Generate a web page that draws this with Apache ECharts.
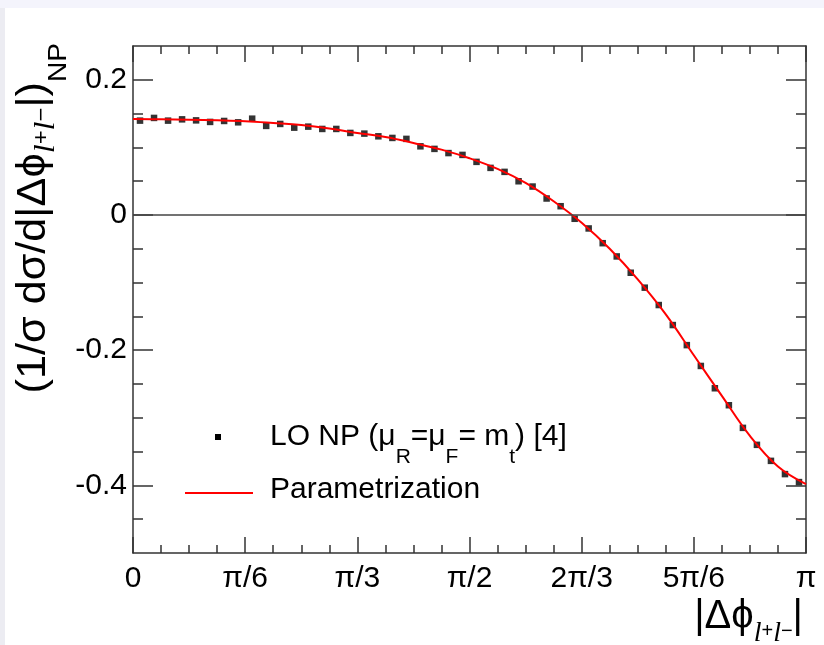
<!DOCTYPE html>
<html>
<head>
<meta charset="utf-8">
<script src="https://cdn.jsdelivr.net/npm/echarts@6/dist/echarts.min.js"></script>
<style>
html,body{margin:0;padding:0;background:#fff;}
#chart{width:824px;height:645px;}
</style>
</head>
<body>
<div id="chart"></div>
<script>
// x is expressed in units of pi/24 rad (minor tick step)
const xTickUnits = [0, 4, 8, 12, 16, 20, 24];
const xTickLabels = ['0', 'π/6', 'π/3', 'π/2', '2π/3', '5π/6', 'π'];
const yTickValues = [-0.4, -0.2, 0, 0.2];
const yTickLabels = ['-0.4', '-0.2', '0', '0.2'];
const yMinorTicks = [-0.45, -0.35, -0.3, -0.25, -0.15, -0.1, -0.05, 0.05, 0.1, 0.15];

// LO NP histogram, 48 bins over [0, pi]
const npValues = [
  0.1396, 0.1436, 0.1396, 0.1415, 0.1400, 0.1377, 0.1391, 0.1371, 0.1425, 0.1318,
  0.1347, 0.1292, 0.1307, 0.1273, 0.1273, 0.1214, 0.1204, 0.1164, 0.1140, 0.1126,
  0.1016, 0.0978, 0.0916, 0.0889, 0.0786, 0.0697, 0.0638, 0.0499, 0.0421, 0.0244,
  0.0130, -0.0056, -0.0199, -0.0417, -0.0613, -0.0854, -0.1075, -0.1332, -0.1628, -0.1925,
  -0.2233, -0.2563, -0.2814, -0.3149, -0.3400, -0.3637, -0.3833, -0.3951
];
// Parametrization curve, read at x = k*pi/24
const fitX = [0, 1, 2, 3, 4, 5, 6, 7, 8, 9, 10, 11, 12, 13, 14, 15, 16, 17, 18, 19, 20, 21, 22, 23, 24];
const fitY = [
  0.142, 0.1415, 0.141, 0.140, 0.1386, 0.136, 0.133, 0.128, 0.1214, 0.1155,
  0.1066, 0.0967, 0.084, 0.0682, 0.0475, 0.0204, -0.0115, -0.050, -0.0953, -0.147,
  -0.2075, -0.2676, -0.3267, -0.372, -0.398
];

const legendTexts = ['LO NP (μ', 'R', '=μ', 'F', '= m', 't', ') [4]'];
const legendFit = 'Parametrization';

const nBins = npValues.length;
const binW = 24 / nBins;
const npData = npValues.map((v, i) => [(i + 0.5) * binW, v]);
const fitData = fitX.map((x, i) => [x, fitY[i]]);

const FONT = 'Liberation Sans, Arial, Helvetica, sans-serif';
const AX = '#333';

function xAxisDef(pos, labels) {
  return {
    type: 'value', position: pos, min: 0, max: 24, interval: 4,
    axisLine: { show: true, onZero: false, lineStyle: { color: AX, width: 1.5 } },
    axisTick: { show: true, inside: true, length: 16, lineStyle: { color: AX, width: 1.5 } },
    minorTick: { show: true, splitNumber: 4, length: 8, lineStyle: { color: AX, width: 1.5 } },
    splitLine: { show: false },
    axisLabel: {
      show: labels, margin: 11, fontFamily: FONT, fontSize: 30, color: '#000',
      formatter: v => xTickLabels[xTickUnits.indexOf(Math.round(v))] || ''
    }
  };
}
function yAxisDef(pos, major, labels, showLine) {
  return {
    type: 'value', position: pos, min: -0.5, max: 0.25,
    axisLine: { show: showLine, onZero: false, lineStyle: { color: AX, width: 1.5 } },
    axisTick: { show: true, inside: true, length: major ? 20 : 10,
      customValues: major ? yTickValues : yMinorTicks, lineStyle: { color: AX, width: 1.5 } },
    splitLine: { show: false },
    axisLabel: {
      show: labels, margin: 6, fontFamily: FONT, fontSize: 30, color: '#000',
      customValues: yTickValues,
      formatter: v => { const i = yTickValues.findIndex(t => Math.abs(t - v) < 1e-9); return i >= 0 ? yTickLabels[i] : ''; }
    }
  };
}

const subShift = (px) => [px * 2, 0, 0, 0];

const chart = echarts.init(document.getElementById('chart'), null, { renderer: 'canvas' });
chart.setOption({
  backgroundColor: '#ffffff',
  animation: false,
  grid: { left: 133, right: 18, top: 46, bottom: 92, containLabel: false },
  xAxis: [xAxisDef('bottom', true), xAxisDef('top', false)],
  yAxis: [
    yAxisDef('left', true, true, true),
    yAxisDef('left', false, false, false),
    yAxisDef('right', true, false, true),
    yAxisDef('right', false, false, false)
  ],
  series: [
    {
      name: 'LO NP', type: 'scatter', data: npData, xAxisIndex: 0, yAxisIndex: 0,
      symbol: 'rect', symbolSize: 6.5, itemStyle: { color: '#000' }, z: 3,
      markLine: {
        silent: true, symbol: ['none', 'none'], label: { show: false },
        lineStyle: { color: '#444', width: 1.5, type: 'solid' },
        data: [{ yAxis: 0 }]
      }
    },
    {
      name: 'Parametrization', type: 'line', data: fitData, xAxisIndex: 0, yAxisIndex: 0,
      smooth: 0.4, showSymbol: false, lineStyle: { color: '#ff0000', width: 2 }, z: 4
    }
  ],
  graphic: [
    { type: 'rect', shape: { x: 0, y: 0, width: 824, height: 8 }, style: { fill: '#f4f4fc' }, silent: true, z: -10 },
    { type: 'rect', shape: { x: 0, y: 8, width: 5, height: 637 }, style: { fill: '#ececf2' }, silent: true, z: -10 },
    // legend
    { type: 'rect', shape: { x: 215, y: 434, width: 6, height: 6 }, style: { fill: '#000' } },
    { type: 'text', x: 270, y: 437, style: {
        text: '{m|' + legendTexts[0] + '}{s|' + legendTexts[1] + '}{m|' + legendTexts[2] + '}{s|' + legendTexts[3] + '}{m|' + legendTexts[4] + '}{s|' + legendTexts[5] + '}{m|' + legendTexts[6] + '}',
        verticalAlign: 'middle', align: 'left',
        rich: {
          m: { fontFamily: FONT, fontSize: 30, fill: '#000', color: '#000' },
          s: { fontFamily: FONT, fontSize: 21, fill: '#000', color: '#000', padding: subShift(20) }
        }
    } },
    { type: 'line', shape: { x1: 185, y1: 493, x2: 253, y2: 493 }, style: { stroke: '#ff0000', lineWidth: 2 } },
    { type: 'text', x: 270, y: 490, style: { text: legendFit, fontFamily: FONT, fontSize: 30, fill: '#000', verticalAlign: 'middle', align: 'left' } },
    // y axis title
    { type: 'text', x: 34, y: 43, rotation: Math.PI / 2, scaleX: 1.08, style: {
        text: '{m|(1/σ dσ/d|Δϕ}{l|l}{p|+}{l|l}{p|−}{m||)}{s|NP}',
        align: 'right', verticalAlign: 'middle',
        rich: {
          m: { fontFamily: FONT, fontSize: 40, fill: '#000' },
          l: { fontFamily: 'Liberation Serif, serif', fontStyle: 'italic', fontSize: 30, fill: '#000', padding: subShift(12) },
          p: { fontFamily: FONT, fontSize: 22, fill: '#000', padding: subShift(8) },
          s: { fontFamily: FONT, fontSize: 26, fill: '#000', padding: subShift(25) }
        }
    } },
    // x axis title
    { type: 'text', x: 803, y: 617, style: {
        text: '{m||Δϕ}{l|l}{p|+}{l|l}{p|−}{m||}',
        align: 'right', verticalAlign: 'middle',
        rich: {
          m: { fontFamily: FONT, fontSize: 40, fill: '#000' },
          l: { fontFamily: 'Liberation Serif, serif', fontStyle: 'italic', fontSize: 28, fill: '#000', padding: subShift(17) },
          p: { fontFamily: FONT, fontSize: 20, fill: '#000', padding: subShift(14) }
        }
    } }
  ]
});
</script>
</body>
</html>
